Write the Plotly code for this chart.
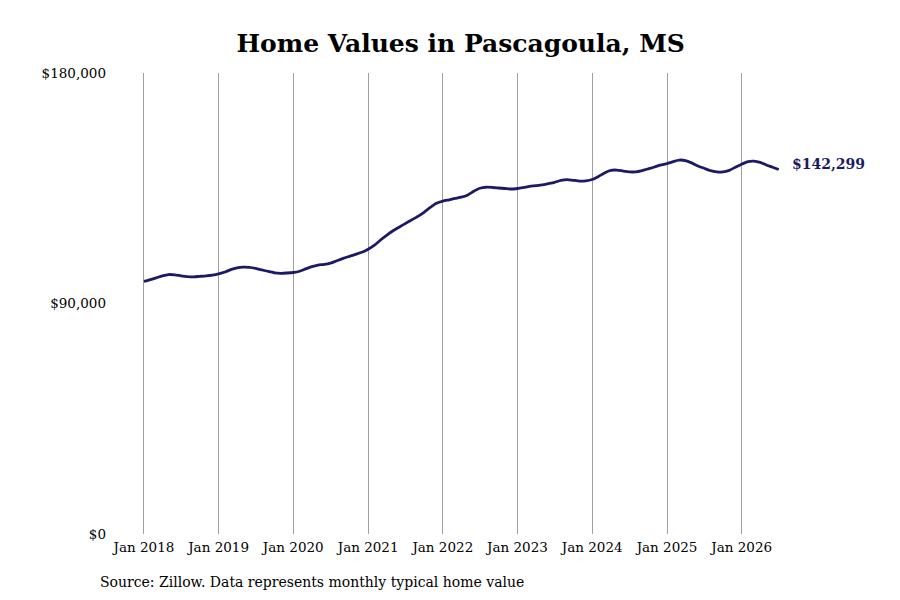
import pandas as pd
import plotly.graph_objects as go

# Typical home value, monthly (Zillow), Jan 2018 -> Jul 2026
months = pd.date_range("2018-01-01", "2026-07-01", freq="MS")
values = [
    # 2018
    98600, 99300, 100000, 100800, 101300, 101200, 100800, 100500, 100400, 100600, 100800, 101100,
    # 2019
    101600, 102300, 103200, 103900, 104200, 104100, 103700, 103100, 102500, 102000, 101800, 101900,
    # 2020
    102100, 102600, 103500, 104400, 105000, 105300, 105800, 106700, 107600, 108400, 109200, 110000,
    # 2021
    111200, 112800, 114700, 116600, 118300, 119800, 121200, 122600, 124000, 125600, 127500, 129100,
    # 2022
    130000, 130500, 131000, 131500, 132300, 133800, 135000, 135400, 135300, 135100, 134900, 134700,
    # 2023
    134900, 135300, 135700, 136000, 136300, 136800, 137300, 138100, 138400, 138100, 137800, 137900,
    # 2024
    138400, 139600, 141000, 142000, 142100, 141700, 141400, 141400, 141900, 142600, 143300, 144100,
    # 2025
    144600, 145400, 146000, 145800, 144900, 143700, 142800, 141900, 141400, 141400, 142000, 143200,
    # 2026
    144400, 145400, 145600, 145100, 144100, 143200, 142299,
]
x_ticks = pd.date_range("2018-01-01", "2026-01-01", freq="YS")
y_ticks = [0, 90000, 180000]
y_labels = ["$0", "$90,000", "$180,000"]

navy = "#1c1a66"
serif = "DejaVu Serif"

fig = go.Figure()
fig.add_trace(go.Scatter(
    x=months, y=values,
    mode="lines",
    line=dict(color=navy, width=2.8, shape="spline", smoothing=0.6),
    hoverinfo="skip",
    showlegend=False,
))

# label at the last value
fig.add_annotation(
    x=months[-1], y=values[-1],
    text="<b>$142,299</b>",
    showarrow=False,
    xanchor="left", yanchor="middle",
    xshift=11, yshift=6,
    font=dict(family=serif, size=14, color=navy),
)

# source note
fig.add_annotation(
    xref="paper", yref="paper",
    x=-0.018, y=-0.104,
    text="Source: Zillow. Data represents monthly typical home value",
    showarrow=False,
    xanchor="left", yanchor="middle",
    font=dict(family=serif, size=14, color="black"),
)

fig.update_layout(
    width=900, height=600,
    margin=dict(l=104, r=38, t=65, b=74),
    paper_bgcolor="white",
    plot_bgcolor="white",
    font=dict(family=serif, size=13, color="black"),
    title=dict(
        text="<b>Home Values in Pascagoula, MS</b>",
        x=0.503, xref="container", xanchor="center",
        y=0.942, yref="container", yanchor="middle",
        font=dict(family=serif, size=25, color="black"),
    ),
    xaxis=dict(
        range=["2017-07-29", "2027-09-20"],
        tickvals=x_ticks,
        tickformat="%b %Y",
        showgrid=True, gridcolor="#a0a0a0", gridwidth=1,
        zeroline=False, showline=False,
        ticks="",
        ticklabelstandoff=3,
        tickfont=dict(family=serif, size=13.5),
    ),
    yaxis=dict(
        range=[0, 180000],
        tickvals=y_ticks, ticktext=y_labels,
        showgrid=False, zeroline=False, showline=False,
        ticks="",
        ticklabelstandoff=5,
        tickfont=dict(family=serif, size=13.5),
    ),
)

fig.write_html("out.html")
